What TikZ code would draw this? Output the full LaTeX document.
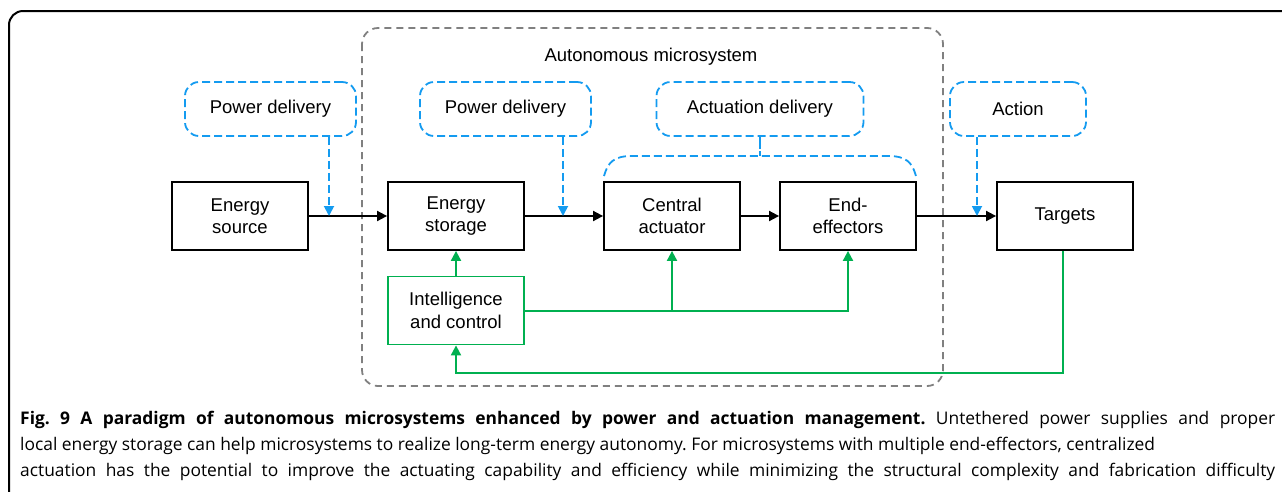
\documentclass[tikz,border=0pt]{standalone}
\usepackage{fontspec}
\setmainfont{Liberation Sans}
\newfontfamily\capfont{Open Sans}
\usepackage{xcolor}
\usetikzlibrary{arrows, arrows.meta, calc}

\definecolor{dblue}{RGB}{20,155,240}
\definecolor{cgreen}{RGB}{0,176,80}
\definecolor{sysgray}{RGB}{128,128,128}
\newcommand\diagfont{\fontsize{18.5}{22.5}\selectfont}

\tikzset{
  blockbox/.style={draw, line width=1.8pt, minimum width=136pt, minimum height=68pt,
    align=center, inner sep=0pt, font=\diagfont},
  ctrlbox/.style={blockbox, draw=cgreen},
  delivbox/.style={draw=dblue, line width=1.8pt, dash pattern=on 8pt off 4pt,
    rounded corners=14pt, minimum height=54pt, inner sep=0pt, font=\diagfont},
  flow/.style={line width=1.8pt, -{Triangle[length=10pt,width=10pt]}},
  supply/.style={dblue, line width=1.8pt, dash pattern=on 8pt off 4pt,
    -{Triangle[length=10pt,width=10pt]}},
  gline/.style={cgreen, line width=2pt},
  garrow/.style={gline, -{Triangle[length=10pt,width=10pt]}}
}

\begin{document}
\begin{tikzpicture}[x=1pt, y=-1pt]
    \clip (0,0) rectangle (1282,491);

    % frame and microsystem border
    \draw[line width=2pt, rounded corners=14pt] (9,520) rectangle (1320,11);
    \draw[sysgray, line width=1.8pt, dash pattern=on 7pt off 5pt, rounded corners=16pt]
        (362,28) rectangle (943,386);
    \node[font=\diagfont] (sys) at (651,57) {Autonomous microsystem};

    % delivery boxes
    \node[delivbox, minimum width=171pt] (pd_1) at (270.5,109) {Power delivery};
    \node[delivbox, minimum width=171pt] (pd_2) at (505.5,109) {Power delivery};
    \node[delivbox, minimum width=207pt] (ad) at (760,109) {Actuation delivery};
    \node[delivbox, minimum width=136pt] (act) at (1018,109) {Action};

    % chain
    \node[blockbox] (src) at (240,216) {Energy\\source};
    \node[blockbox] (stor) at (456,216) {Energy\\storage};
    \node[blockbox] (cen) at (672,216) {Central\\actuator};
    \node[blockbox] (eff) at (848,216) {End-\\effectors};
    \node[blockbox] (tgt) at (1065,216) {Targets\strut};
    \node[ctrlbox] (ctrl) at (456,310.5) {Intelligence\\and control};

    \coordinate (j_1) at (329,216);
    \coordinate (j_2) at (563,216);
    \coordinate (j_3) at (977,216);
    \coordinate (b_1) at (604,176);
    \coordinate (b_2) at (916,176);
    \coordinate (b_3) at (760,156);
    \coordinate (fb) at (456,373);

    \draw[flow] (src) -- (stor);
    \draw[flow] (stor) -- (cen);
    \draw[flow] (cen) -- (eff);
    \draw[flow] (eff) -- (tgt);

    \draw[supply] (pd_1.south -| j_1) -- (j_1);
    \draw[supply] (pd_2.south -| j_2) -- (j_2);
    \draw[supply] (act.south -| j_3) -- (j_3);

    % actuation bracket
    \draw[dblue, line width=1.8pt, dash pattern=on 8pt off 4pt]
        (b_1) .. controls (608,162) and (614,156) .. (632,156) -- (888,156)
        .. controls (906,156) and (912,162) .. (b_2);
    \draw[dblue, line width=1.8pt, dash pattern=on 12pt off 2pt] (ad.south) -- (b_3);

    % control
    \draw[garrow] (ctrl) -- (stor);
    \draw[garrow] (ctrl.east) -| (eff.south);
    \draw[garrow] (ctrl.east -| cen.south) -- (cen.south);
    \draw[garrow] (tgt.south -| 1063,0) |- (fb) -- (ctrl.south);

    % caption
    \node[anchor=north west, inner sep=0pt, text width=1255pt, align=justify,
          font=\capfont\fontsize{17.4}{26}\selectfont\frenchspacing] (cap) at (20,411)
        {\textbf{Fig. 9 A paradigm of autonomous microsystems enhanced by power and actuation management.} Untethered power supplies and proper\linebreak
         local energy storage can help microsystems to realize long-term energy autonomy. For microsystems with multiple end-effectors, centralized\newline
         \makebox[\linewidth][s]{actuation has the potential to improve the actuating capability and efficiency while minimizing the structural complexity and fabrication difficulty}};
\end{tikzpicture}
\end{document}
